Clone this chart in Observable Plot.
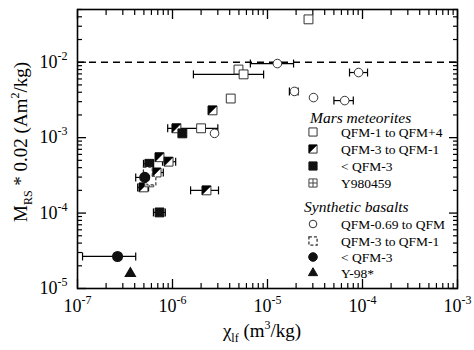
<!DOCTYPE html>
<html><head><meta charset="utf-8">
<script src="https://cdn.jsdelivr.net/npm/d3@7"></script>
<script src="https://cdn.jsdelivr.net/npm/@observablehq/plot@0.6"></script>
<style>body{margin:0;background:#fff} #chart{width:474px;height:350px;position:relative}</style>
</head><body><div id="chart"></div>
<script>
// ---- data ----
const xMajor = [1e-7, 1e-6, 1e-5, 1e-4, 1e-3];
const yMajor = [1e-5, 1e-4, 1e-3, 1e-2];
const xDomain = [1e-7, 1e-3];
const yDomain = [1e-5, 5e-2];
const refLine = [1e-2];

// each row: [chi_lf, Mrs*0.02, chi low, chi high]
const marsOxidized = [  // QFM-1 to QFM+4 (open square)
  [2.7e-5, 3.7e-2], [4.95e-6, 8.0e-3], [5.6e-6, 6.9e-3, 1.66e-6, 9.1e-6],
  [4.1e-6, 3.3e-3], [2.0e-6, 1.33e-3, 8.9e-7, 3.0e-6]
];
const marsMid = [       // QFM-3 to QFM-1 (half-filled square)
  [2.64e-6, 2.3e-3], [1.1e-6, 1.33e-3], [7.3e-7, 5.5e-4],
  [9.1e-7, 4.8e-4, 7.85e-7, 1.08e-6], [6.8e-7, 3.45e-4, 5.9e-7, 8.0e-7],
  [4.95e-7, 2.19e-4, 4.3e-7, 5.6e-7], [2.28e-6, 2.0e-4, 1.55e-6, 3.05e-6]
];
const marsReduced = [   // < QFM-3 (filled square)
  [1.27e-6, 1.14e-3], [5.7e-7, 4.5e-4, 4.95e-7, 6.3e-7], [7.3e-7, 1.02e-4, 6.3e-7, 8.4e-7]
];
const marsY980459 = [[5.7e-7, 2.55e-4]];
const synOxidized = [   // QFM-0.69 to QFM (open circle)
  [1.27e-5, 9.6e-3, 6.6e-6, 1.88e-5], [9.1e-5, 7.3e-3, 7.3e-5, 1.13e-4],
  [1.92e-5, 4.1e-3, 1.7e-5, 2.1e-5], [3.05e-5, 3.4e-3],
  [6.5e-5, 3.1e-3, 5.0e-5, 8.0e-5], [2.77e-6, 1.14e-3]
];
const synMid = [[6.0e-7, 2.7e-4], [5.5e-7, 3.56e-4]];   // QFM-3 to QFM-1 (dashed square)
const synReduced = [[2.64e-7, 2.66e-5, 1.13e-7, 4.1e-7], [5.1e-7, 2.97e-4, 4.1e-7, 6.0e-7]]; // < QFM-3
const synY98 = [[3.6e-7, 1.58e-5]];

const marsTitle = "Mars meteorites";
const synTitle = "Synthetic basalts";
const marsLabels = ["QFM-1 to QFM+4", "QFM-3 to QFM-1", "< QFM-3", "Y980459"];
const synLabels = ["QFM-0.69 to QFM", "QFM-3 to QFM-1", "< QFM-3", "Y-98*"];

// ---- helpers ----
function minorTicks(e0, e1, max) {
  const out = [];
  for (let e = e0; e < e1; e++) for (let k = 2; k < 10; k++) {
    const v = k * Math.pow(10, e);
    if (v <= max * 1.000001) out.push(v);
  }
  return out;
}
const xMinor = minorTicks(-7, -3, 1e-3);
const yMinor = minorTicks(-5, -1, 5e-2);

const halfTri = {draw(ctx, size) { const s = Math.sqrt(size) / 2;
  ctx.moveTo(-s, -s); ctx.lineTo(s, -s); ctx.lineTo(-s, s); ctx.closePath(); }};
const cross = {draw(ctx, size) { const s = Math.sqrt(size) / 2;
  ctx.moveTo(0, -s); ctx.lineTo(0, s); ctx.moveTo(-s, 0); ctx.lineTo(s, 0); }};
const vbar = {draw(ctx, size) { const h = Math.sqrt(size / Math.PI);
  ctx.moveTo(0, -h); ctx.lineTo(0, h); }};

const all = [...marsOxidized, ...marsMid, ...marsReduced, ...marsY980459,
             ...synOxidized, ...synMid, ...synReduced, ...synY98];
const withErr = all.filter(d => d.length === 4);
const caps = withErr.flatMap(d => [[d[2], d[1]], [d[3], d[1]]]);

const FONT = "Liberation Serif, Times New Roman, serif";
const fmt = d => "10|" + Math.round(Math.log10(d));
const SQ = 5, CI = 4.3;

const plot = Plot.plot({
  width: 474, height: 350,
  marginLeft: 77, marginRight: 17, marginTop: 9, marginBottom: 62,
  style: {fontFamily: FONT, background: "white", color: "black"},
  x: {type: "log", domain: xDomain},
  y: {type: "log", domain: yDomain},
  marks: [
    Plot.ruleY(refLine, {stroke: "black", strokeWidth: 1.4, strokeDasharray: "7,5"}),
    // axis ticks (inward), all four sides
    Plot.axisX({anchor: "bottom", ticks: xMajor, tickSize: -9, tickFormat: () => "", label: null, strokeWidth: 1.3}),
    Plot.axisX({anchor: "bottom", ticks: xMinor, tickSize: -5, tickFormat: () => "", label: null, strokeWidth: 1.2}),
    Plot.axisX({anchor: "top", ticks: xMajor, tickSize: -9, tickFormat: () => "", label: null, strokeWidth: 1.3}),
    Plot.axisX({anchor: "top", ticks: xMinor, tickSize: -5, tickFormat: () => "", label: null, strokeWidth: 1.2}),
    Plot.axisY({anchor: "left", ticks: yMajor, tickSize: -9, tickFormat: () => "", label: null, strokeWidth: 1.3}),
    Plot.axisY({anchor: "left", ticks: yMinor, tickSize: -5, tickFormat: () => "", label: null, strokeWidth: 1.2}),
    Plot.axisY({anchor: "right", ticks: yMajor, tickSize: -9, tickFormat: () => "", label: null, strokeWidth: 1.3}),
    Plot.axisY({anchor: "right", ticks: yMinor, tickSize: -5, tickFormat: () => "", label: null, strokeWidth: 1.2}),
    // tick labels
    Plot.axisX({anchor: "bottom", ticks: xMajor, tickSize: 0, tickPadding: 11, tickFormat: fmt, fontSize: 18, label: null}),
    Plot.axisY({anchor: "left", ticks: yMajor, tickSize: 0, tickPadding: 10, tickFormat: fmt, fontSize: 18, label: null}),
    Plot.frame({stroke: "black", strokeWidth: 1.6}),
    // error bars
    Plot.link(withErr, {x1: d => d[2], x2: d => d[3], y1: d => d[1], y2: d => d[1], stroke: "black", strokeWidth: 1.2}),
    Plot.dot(caps, {x: d => d[0], y: d => d[1], symbol: vbar, r: 4, stroke: "black", strokeWidth: 1.2}),
    // Mars meteorites
    Plot.dot(marsOxidized, {x: d => d[0], y: d => d[1], symbol: "square", r: SQ, fill: "white", stroke: "#333", strokeWidth: 1}),
    Plot.dot(marsMid, {x: d => d[0], y: d => d[1], symbol: "square", r: SQ, fill: "white", stroke: "#333", strokeWidth: 1}),
    Plot.dot(marsMid, {x: d => d[0], y: d => d[1], symbol: halfTri, r: SQ, fill: "black", stroke: "black", strokeWidth: 0.5}),
    Plot.dot(marsReduced, {x: d => d[0], y: d => d[1], symbol: "square", r: SQ, fill: "#111", stroke: "#111", strokeWidth: 1}),
    Plot.dot(marsY980459, {x: d => d[0], y: d => d[1], symbol: "square", r: SQ, fill: "white", stroke: "#444", strokeWidth: 1}),
    Plot.dot(marsY980459, {x: d => d[0], y: d => d[1], symbol: cross, r: SQ, stroke: "#444", strokeWidth: 1}),
    // synthetic basalts
    Plot.dot(synOxidized, {x: d => d[0], y: d => d[1], symbol: "circle", r: CI, fill: "white", stroke: "#333", strokeWidth: 1}),
    Plot.dot(synMid, {x: d => d[0], y: d => d[1], symbol: "square", r: SQ, fill: "white", stroke: "#333", strokeWidth: 1.2, strokeDasharray: "3,2"}),
    Plot.dot(synReduced, {x: d => d[0], y: d => d[1], symbol: "circle", r: CI + 0.5, fill: "#111", stroke: "#111"}),
    Plot.dot(synY98, {x: d => d[0], y: d => d[1], symbol: "triangle", r: 3.6, fill: "#111", stroke: "#111"})
  ]
});

const svg = d3.select(plot);
// superscript exponents in tick labels
svg.selectAll('g[aria-label$="tick label"] text').each(function () {
  const t = d3.select(this);
  const s = t.text();
  if (!s.includes("|")) return;
  const [base, exp] = s.split("|");
  t.text(null);
  t.append("tspan").text(base);
  t.append("tspan").attr("font-size", 12).attr("dy", -8).text(exp);
});

// axis titles
const yt = svg.append("text").attr("transform", "translate(27,142) rotate(-90)")
  .attr("text-anchor", "middle").attr("font-size", 19).attr("font-family", FONT).attr("fill", "black");
yt.append("tspan").text("M");
yt.append("tspan").attr("font-size", 12).attr("dy", 5).text("RS");
yt.append("tspan").attr("dy", -5).text(" * 0.02 (Am");
yt.append("tspan").attr("font-size", 12).attr("dy", -8).text("2");
yt.append("tspan").attr("dy", 8).text("/kg)");

const xt = svg.append("text").attr("x", 262).attr("y", 337)
  .attr("text-anchor", "middle").attr("font-size", 19).attr("font-family", FONT).attr("fill", "black");
xt.append("tspan").text("\u03C7");
xt.append("tspan").attr("font-size", 12).attr("dy", 5).text("lf");
xt.append("tspan").attr("dy", -5).text(" (m");
xt.append("tspan").attr("font-size", 12).attr("dy", -8).text("3");
xt.append("tspan").attr("dy", 8).text("/kg)");

// legend
const lg = svg.append("g").attr("font-family", FONT).attr("fill", "black").attr("text-anchor", "start");
function sym(type, r, x, y, attrs) {
  const p = lg.append("path").attr("d", d3.symbol(type, r * r * Math.PI)()).attr("transform", `translate(${x},${y})`);
  for (const k in attrs) p.attr(k, attrs[k]);
}
const LSQ = 4.6, LX = 313, TX = 341;
lg.append("text").attr("x", 310).attr("y", 123).attr("font-size", 15.5).attr("font-style", "italic").text(marsTitle);
const mRows = [132, 149, 166, 183];
sym(d3.symbolSquare, LSQ, LX, mRows[0], {fill: "white", stroke: "#333"});
sym(d3.symbolSquare, LSQ, LX, mRows[1], {fill: "white", stroke: "#333"});
sym(halfTri, LSQ, LX, mRows[1], {fill: "black", stroke: "black", "stroke-width": 0.5});
sym(d3.symbolSquare, LSQ, LX, mRows[2], {fill: "#111", stroke: "#111"});
sym(d3.symbolSquare, LSQ, LX, mRows[3], {fill: "white", stroke: "#444"});
sym(cross, LSQ, LX, mRows[3], {fill: "none", stroke: "#444"});
marsLabels.forEach((s, i) => lg.append("text").attr("x", TX).attr("y", mRows[i] + 4.5).attr("font-size", 13.5).text(s));

lg.append("text").attr("x", 304).attr("y", 212).attr("font-size", 15.5).attr("font-style", "italic").text(synTitle);
const sRows = [224, 241, 257, 273];
sym(d3.symbolCircle, 3.8, LX, sRows[0], {fill: "white", stroke: "#333"});
sym(d3.symbolSquare, LSQ, LX, sRows[1], {fill: "white", stroke: "#333", "stroke-width": 1.3, "stroke-dasharray": "3,2"});
sym(d3.symbolCircle, 4.3, LX, sRows[2], {fill: "#111", stroke: "#111"});
sym(d3.symbolTriangle, 3.4, LX, sRows[3], {fill: "#111", stroke: "#111"});
synLabels.forEach((s, i) => lg.append("text").attr("x", TX).attr("y", sRows[i] + 4.5).attr("font-size", 13.5).text(s));

document.getElementById("chart").appendChild(plot);
</script>
</body></html>
